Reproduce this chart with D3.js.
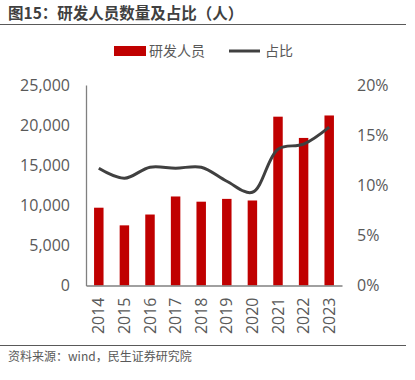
<!DOCTYPE html>
<html>
<head>
<meta charset="utf-8">
<script src="https://cdn.jsdelivr.net/npm/d3@7"></script>
<style>
  body { margin: 0; background: #fff; }
  svg { display: block; font-family: "Open Sans", "Noto Sans CJK SC", sans-serif; }
</style>
</head>
<body>
<svg id="chart" width="415" height="380"></svg>
<script>
// chart data
const years = ["2014", "2015", "2016", "2017", "2018", "2019", "2020", "2021", "2022", "2023"];
const staff = [9700, 7500, 8850, 11100, 10450, 10800, 10600, 21050, 18400, 21200];
const share = [11.7, 10.7, 11.8, 11.7, 11.8, 10.4, 9.3, 13.6, 14.1, 15.8];
const leftTicks = [0, 5000, 10000, 15000, 20000, 25000];
const rightTicks = [0, 5, 10, 15, 20];

const svg = d3.select("#chart");
const grey = "#595959";

// plot area
const plotL = 86, plotR = 342, plotT = 85, plotB = 285.5;

const x = d3.scaleBand().domain(years).range([plotL, plotR]).paddingInner(0.63).paddingOuter(0.315);
const yL = d3.scaleLinear().domain([0, 25000]).range([plotB, plotT]);
const yR = d3.scaleLinear().domain([0, 20]).range([plotB, plotT]);

// title
svg.append("text")
    .attr("x", 8).attr("y", 19)
    .attr("font-size", 15.5).attr("font-weight", "bold")
    .attr("font-family", "'Noto Sans CJK SC', sans-serif")
    .attr("fill", "#404040")
    .text("图15：研发人员数量及占比（人）");
svg.append("line").attr("x1", 0).attr("x2", 406).attr("y1", 24.5).attr("y2", 24.5)
    .attr("stroke", "#595959").attr("stroke-width", 1.2);

// legend
const legend = svg.append("g").attr("font-size", 14).attr("fill", grey)
    .attr("font-family", "'Noto Sans CJK SC', sans-serif");
legend.append("rect").attr("x", 114).attr("y", 46).attr("width", 32).attr("height", 10).attr("fill", "#C00000");
legend.append("text").attr("x", 149).attr("y", 56).text("研发人员");
legend.append("line").attr("x1", 229).attr("x2", 260).attr("y1", 51).attr("y2", 51)
    .attr("stroke", "#404040").attr("stroke-width", 3);
legend.append("text").attr("x", 265).attr("y", 56).text("占比");

// bars
svg.append("g").selectAll("rect").data(staff).join("rect")
    .attr("x", (d, i) => x(years[i]))
    .attr("width", x.bandwidth())
    .attr("y", d => yL(d))
    .attr("height", d => plotB - yL(d))
    .attr("fill", "#C00000");

// left axis
const axL = svg.append("g").attr("transform", `translate(${plotL},0)`)
    .call(d3.axisLeft(yL).tickValues(leftTicks).tickSize(0).tickPadding(16).tickFormat(d3.format(",")));
axL.select(".domain").attr("stroke", "#808080").attr("stroke-width", 1.3);
axL.selectAll("text").attr("font-size", 16).attr("fill", grey).attr("font-family", "'Open Sans', sans-serif");

// right axis (labels only)
const axR = svg.append("g").attr("transform", `translate(${plotR},0)`)
    .call(d3.axisRight(yR).tickValues(rightTicks).tickSize(0).tickPadding(15).tickFormat(d => d + "%"));
axR.select(".domain").remove();
axR.selectAll("text").attr("font-size", 16).attr("fill", grey).attr("font-family", "'Open Sans', sans-serif");

// bottom axis
const axB = svg.append("g").attr("transform", `translate(0,${plotB})`)
    .call(d3.axisBottom(x).tickSize(0).tickPadding(0));
axB.select(".domain").attr("stroke", "#808080").attr("stroke-width", 1.3);
axB.selectAll("text")
    .attr("font-size", 16).attr("fill", grey).attr("font-family", "'Open Sans', sans-serif")
    .attr("transform", "rotate(-90)")
    .attr("text-anchor", "end")
    .attr("x", -12).attr("y", 0).attr("dy", "0.35em");

// share line
const line = d3.line()
    .x((d, i) => x(years[i]) + x.bandwidth() / 2)
    .y(d => yR(d))
    .curve(d3.curveCatmullRom.alpha(0.5));
svg.append("path").datum(share)
    .attr("d", line)
    .attr("fill", "none")
    .attr("stroke", "#404040")
    .attr("stroke-width", 3);

// footer
svg.append("line").attr("x1", 0).attr("x2", 406).attr("y1", 345.5).attr("y2", 345.5)
    .attr("stroke", "#595959").attr("stroke-width", 1.2);
svg.append("text")
    .attr("x", 8).attr("y", 361)
    .attr("font-size", 12).attr("fill", grey)
    .attr("font-family", "'Noto Sans CJK SC', sans-serif")
    .text("资料来源：wind，民生证券研究院");
</script>
</body>
</html>
